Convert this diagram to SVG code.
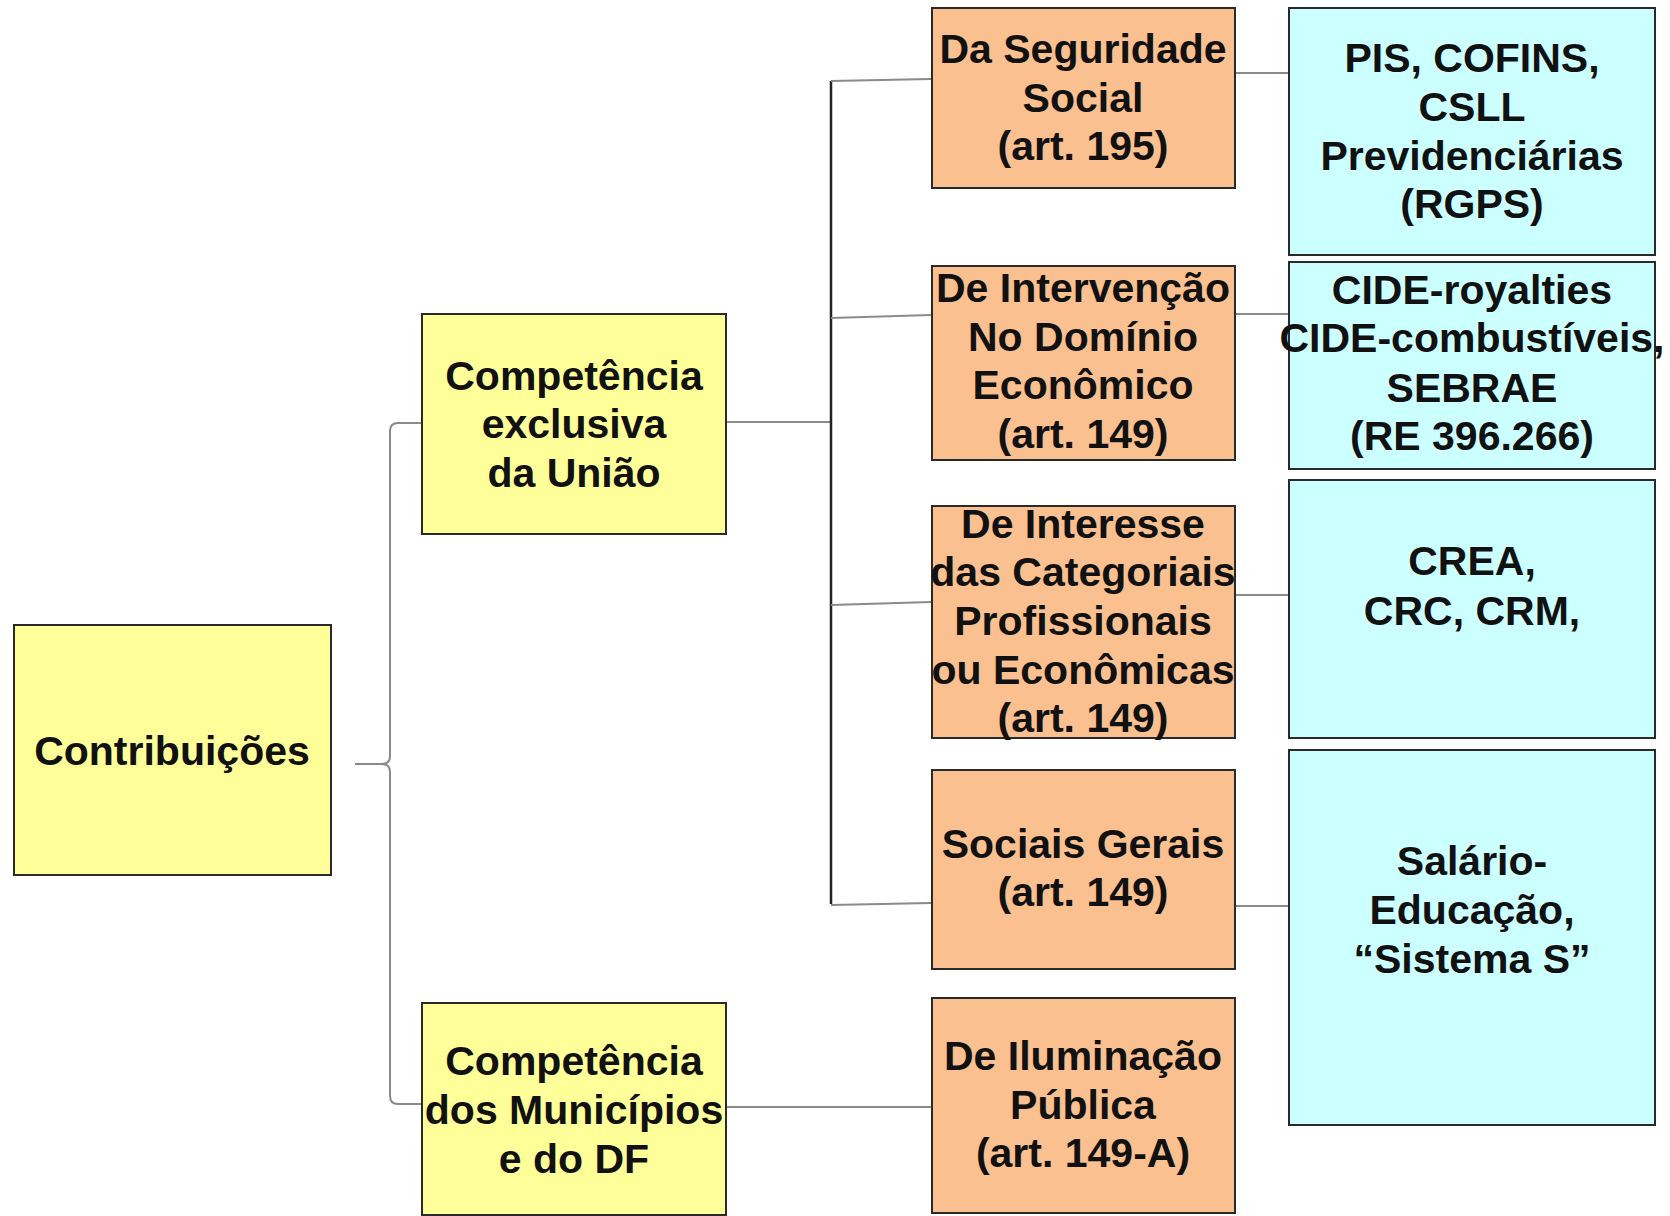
<svg xmlns="http://www.w3.org/2000/svg" width="1670" height="1216" viewBox="0 0 1670 1216">
<style>
.box{stroke:#2a2a2a;stroke-width:2}
.y{fill:#FFFF99}
.o{fill:#FAC08F}
.c{fill:#CCFFFF}
text{font-family:"Liberation Sans",Arial,sans-serif;font-weight:bold;font-size:41px;fill:#111;text-anchor:middle}
.ln{fill:none;stroke:#8a8a8a;stroke-width:2}
.trunk{fill:none;stroke:#222;stroke-width:2.5}
</style>
<rect width="1670" height="1216" fill="#fff"/>
<g id="connectors">
<path class="ln" d="M422,423 H398 Q390,423 390,431 V756 Q390,764 382,764 H355"/>
<path class="ln" d="M355,764 H382 Q390,764 390,772 V1096 Q390,1104 398,1104 H422"/>
<path class="ln" d="M726,422 H832"/>
<path class="trunk" d="M831,81 V904"/>
<path class="ln" d="M831,81 L931,79"/>
<path class="ln" d="M831,318 L931,315"/>
<path class="ln" d="M831,605 L931,602"/>
<path class="ln" d="M831,905 L931,903"/>
<path class="ln" d="M1235,73 H1289"/>
<path class="ln" d="M1235,314 H1289"/>
<path class="ln" d="M1235,595 H1289"/>
<path class="ln" d="M1235,906 H1289"/>
<path class="ln" d="M726,1107 H932"/>
</g>
<g id="contribuicoes">
<rect class="box y" x="14" y="625" width="317" height="250"/>
<text x="172" y="765">Contribuições</text>
</g>
<g id="comp-uniao">
<rect class="box y" x="422" y="314" width="304" height="220"/>
<text x="574" y="390">Competência</text>
<text x="574" y="438">exclusiva</text>
<text x="574" y="487">da União</text>
</g>
<g id="comp-municipios">
<rect class="box y" x="422" y="1003" width="304" height="212"/>
<text x="574" y="1075">Competência</text>
<text x="574" y="1124">dos Municípios</text>
<text x="574" y="1173">e do DF</text>
</g>
<g id="seguridade">
<rect class="box o" x="932" y="8" width="303" height="180"/>
<text x="1083" y="63">Da Seguridade</text>
<text x="1083" y="112">Social</text>
<text x="1083" y="160">(art. 195)</text>
</g>
<g id="intervencao">
<rect class="box o" x="932" y="266" width="303" height="194"/>
<text x="1083" y="302">De Intervenção</text>
<text x="1083" y="351">No Domínio</text>
<text x="1083" y="399">Econômico</text>
<text x="1083" y="448">(art. 149)</text>
</g>
<g id="interesse">
<rect class="box o" x="932" y="506" width="303" height="232"/>
<text x="1083" y="538">De Interesse</text>
<text x="1083" y="586">das Categoriais</text>
<text x="1083" y="635">Profissionais</text>
<text x="1083" y="684">ou Econômicas</text>
<text x="1083" y="732">(art. 149)</text>
</g>
<g id="sociais">
<rect class="box o" x="932" y="770" width="303" height="199"/>
<text x="1083" y="858">Sociais Gerais</text>
<text x="1083" y="906">(art. 149)</text>
</g>
<g id="iluminacao">
<rect class="box o" x="932" y="998" width="303" height="215"/>
<text x="1083" y="1070">De Iluminação</text>
<text x="1083" y="1119">Pública</text>
<text x="1083" y="1167">(art. 149-A)</text>
</g>
<g id="pis">
<rect class="box c" x="1289" y="8" width="366" height="247"/>
<text x="1472" y="72">PIS, COFINS,</text>
<text x="1472" y="121">CSLL</text>
<text x="1472" y="170">Previdenciárias</text>
<text x="1472" y="218">(RGPS)</text>
</g>
<g id="cide">
<rect class="box c" x="1289" y="262" width="366" height="207"/>
<text x="1472" y="304">CIDE-royalties</text>
<text x="1472" y="352">CIDE-combustíveis,</text>
<text x="1472" y="402">SEBRAE</text>
<text x="1472" y="450">(RE 396.266)</text>
</g>
<g id="crea">
<rect class="box c" x="1289" y="480" width="366" height="258"/>
<text x="1472" y="575">CREA,</text>
<text x="1472" y="625">CRC, CRM,</text>
</g>
<g id="salario">
<rect class="box c" x="1289" y="750" width="366" height="375"/>
<text x="1472" y="875">Salário-</text>
<text x="1472" y="924">Educação,</text>
<text x="1472" y="973">“Sistema S”</text>
</g>
</svg>
